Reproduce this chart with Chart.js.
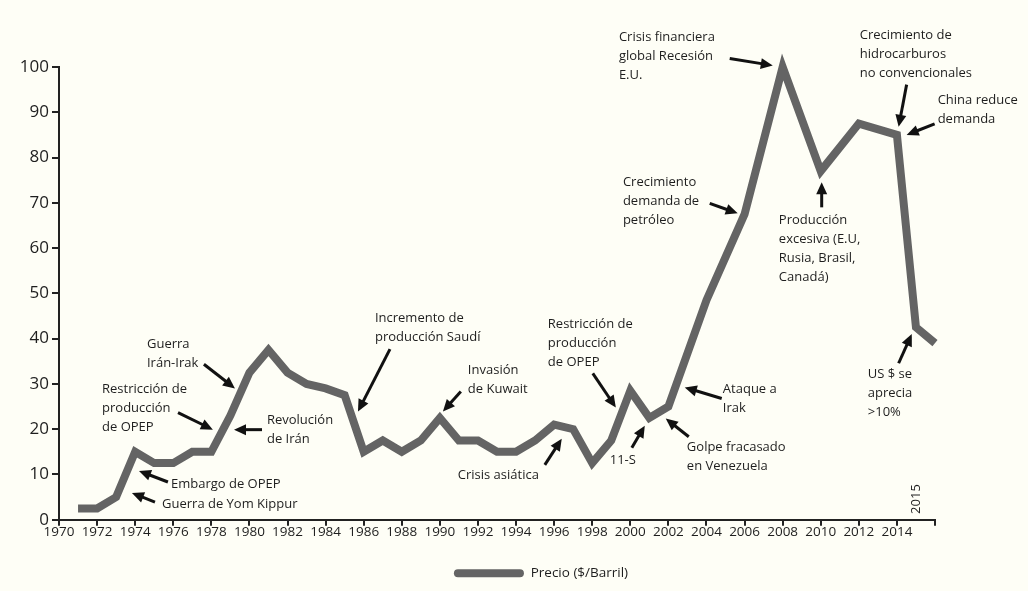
<!DOCTYPE html>
<html>
<head>
<meta charset="utf-8">
<script src="https://cdn.jsdelivr.net/npm/chart.js"></script>
<style>
    html, body { margin: 0; padding: 0; background: #fefef6; }
</style>
</head>
<body>
<canvas id="oilPriceChart" width="1028" height="591"></canvas>
<script>
// years where the line changes direction, and the price read at each one
const years = [1971, 1972, 1973, 1974, 1975, 1976, 1977, 1978, 1979, 1980,
    1981, 1982, 1983, 1984, 1985, 1986, 1987, 1988, 1989, 1990,
    1991, 1992, 1993, 1994, 1995, 1996, 1997, 1998, 1999, 2000,
    2001, 2002, 2004, 2006, 2008, 2010, 2012, 2014, 2015, 2016];
const prices = [2.5, 2.5, 5, 15, 12.5, 12.5, 15, 15, 23, 32.5,
    37.5, 32.5, 30, 29, 27.5, 15, 17.5, 15, 17.5, 22.5,
    17.5, 17.5, 15, 15, 17.5, 21, 20, 12.5, 17.5, 28.5,
    22.5, 25, 48.5, 67.5, 100, 77, 87.5, 85, 42.5, 39];
const xTickLabels = [1970, 1972, 1974, 1976, 1978, 1980, 1982, 1984, 1986, 1988, 1990,
    1992, 1994, 1996, 1998, 2000, 2002, 2004, 2006, 2008, 2010, 2012, 2014];
const seriesLabel = 'Precio ($/Barril)';

// notas: texto (esquina izq., centro de 1a linea) y flecha (desde -> hasta), en unidades de datos
const notes = [
    { lines: ['Guerra de Yom Kippur'], at: [1975.41, 3.44], from: [1975.04, 3.89], to: [1973.83, 5.89] },
    { lines: ['Embargo de OPEP'], at: [1975.88, 7.89], from: [1975.72, 8.33], to: [1974.2, 10.78] },
    { lines: ['Restricción de', 'producción', 'de OPEP'], at: [1972.26, 28.78], from: [1976.25, 23.67], to: [1978.08, 19.89] },
    { lines: ['Guerra', 'Irán-Irak'], at: [1974.62, 38.78], from: [1977.61, 34.33], to: [1979.24, 29.0] },
    { lines: ['Revolución', 'de Irán'], at: [1980.92, 21.89], from: [1980.66, 19.89], to: [1979.19, 19.89] },
    { lines: ['Incremento de', 'producción Saudí'], at: [1986.59, 44.56], from: [1987.38, 37.67], to: [1985.7, 23.89] },
    { lines: ['Invasión', 'de Kuwait'], at: [1991.47, 33.0], from: [1991.1, 28.33], to: [1990.16, 23.89] },
    { lines: ['Crisis asiática'], at: [1990.94, 9.89], from: [1995.51, 12.11], to: [1996.4, 17.89] },
    { lines: ['Restricción de', 'producción', 'de OPEP'], at: [1995.67, 43.22], from: [1998.03, 32.33], to: [1999.24, 24.78] },
    { lines: ['11-S'], at: [1998.92, 13.22], from: [2000.08, 15.89], to: [2000.76, 20.78] },
    { lines: ['Golpe fracasado', 'en Venezuela'], at: [2002.97, 15.89], from: [2003.07, 18.33], to: [2001.86, 22.33] },
    { lines: ['Ataque a', 'Irak'], at: [2004.86, 28.78], from: [2004.8, 26.78], to: [2002.86, 29.22] },
    { lines: ['Crecimiento', 'demanda de', 'petróleo'], at: [1999.61, 74.56], from: [2004.17, 69.89], to: [2005.64, 67.67] },
    { lines: ['Crisis financiera', 'global Recesión', 'E.U.'], at: [1999.4, 106.56], from: [2005.22, 101.89], to: [2007.48, 100.33] },
    { lines: ['Producción', 'excesiva (E.U,', 'Rusia, Brasil,', 'Canadá)'], at: [2007.8, 66.11], from: [2010.05, 69.0], to: [2010.05, 74.56] },
    { lines: ['Crecimiento de', 'hidrocarburos', 'no convencionales'], at: [2012.05, 107.0], from: [2014.51, 96.11], to: [2014.09, 86.78] },
    { lines: ['China reduce', 'demanda'], at: [2016.14, 92.56], from: [2015.98, 87.44], to: [2014.51, 85.0] },
    { lines: ['US $ se', 'aprecia', '>10%'], at: [2012.47, 32.11], from: [2014.09, 34.56], to: [2014.78, 41.0] }
];
const yearNote = { text: '2015', at: [2015.04, 4.56] };

function drawArrow(ctx, x1, y1, x2, y2) {
    const ang = Math.atan2(y2 - y1, x2 - x1);
    const head = 12;
    const half = 5.5;
    const c = Math.cos(ang);
    const s = Math.sin(ang);
    ctx.beginPath();
    ctx.moveTo(x1, y1);
    ctx.lineTo(x2 - c * (head - 2), y2 - s * (head - 2));
    ctx.stroke();
    ctx.beginPath();
    ctx.moveTo(x2, y2);
    ctx.lineTo(x2 - head * c + half * s, y2 - head * s - half * c);
    ctx.lineTo(x2 - head * c - half * s, y2 - head * s + half * c);
    ctx.closePath();
    ctx.fill();
}

const notesPlugin = {
    id: 'notes',
    afterDatasetsDraw(chart) {
        const ctx = chart.ctx;
        const x = chart.scales.x;
        const y = chart.scales.y;
        ctx.save();
        ctx.font = '13px "Open Sans"';
        ctx.textBaseline = 'middle';
        ctx.textAlign = 'left';
        ctx.lineWidth = 3;
        ctx.strokeStyle = '#111';
        notes.forEach(n => {
            ctx.fillStyle = '#1e1e1e';
            n.lines.forEach((t, i) => {
                ctx.fillText(t, x.getPixelForValue(n.at[0]), y.getPixelForValue(n.at[1]) + i * 19);
            });
            ctx.fillStyle = '#111';
            drawArrow(ctx,
                x.getPixelForValue(n.from[0]), y.getPixelForValue(n.from[1]),
                x.getPixelForValue(n.to[0]), y.getPixelForValue(n.to[1]));
        });
        // año 2015 en vertical
        ctx.translate(x.getPixelForValue(yearNote.at[0]), y.getPixelForValue(yearNote.at[1]));
        ctx.rotate(-Math.PI / 2);
        ctx.textAlign = 'center';
        ctx.fillStyle = '#1e1e1e';
        ctx.fillText(yearNote.text, 0, 0);
        ctx.restore();
    }
};

// la leyenda del original no esta centrada en el lienzo, se corre un poco a la derecha
const legendShift = {
    id: 'legendShift',
    afterLayout(chart) {
        chart.legend.left += 27;
        chart.legend.right += 27;
    }
};

const ctx = document.getElementById('oilPriceChart').getContext('2d');

new Chart(ctx, {
    type: 'line',
    data: {
        datasets: [{
            label: seriesLabel,
            data: years.map((yr, i) => ({ x: yr, y: prices[i] })),
            borderColor: '#646464',
            backgroundColor: '#646464',
            borderWidth: 8,
            pointRadius: 0,
            tension: 0,
            clip: false
        }]
    },
    options: {
        responsive: false,
        animation: false,
        layout: {
            padding: { left: 0, top: 67, right: 0, bottom: 1 }
        },
        scales: {
            x: {
                type: 'linear',
                min: 1970,
                max: 2016,
                afterFit: scale => { scale.height = 36.8; },
                grid: { drawOnChartArea: false, tickLength: 6, color: '#222', lineWidth: 2 },
                border: { color: '#222', width: 2 },
                ticks: {
                    stepSize: 2,
                    padding: -2,
                    maxRotation: 0,
                    autoSkip: false,
                    color: '#1e1e1e',
                    font: { family: 'Open Sans', size: 13.5 },
                    callback: value => xTickLabels.includes(value) ? String(value) : ''
                }
            },
            y: {
                min: 0,
                max: 100,
                afterFit: scale => { scale.width = 59; },
                grid: { drawOnChartArea: false, tickLength: 7, color: '#222', lineWidth: 2 },
                border: { color: '#222', width: 2 },
                ticks: {
                    stepSize: 10,
                    padding: 3,
                    color: '#1e1e1e',
                    font: { family: 'Open Sans', size: 17 }
                }
            },
            yRight: {
                position: 'right',
                display: true,
                afterFit: scale => { scale.width = 93; },
                grid: { display: false },
                border: { display: false },
                ticks: { display: false }
            }
        },
        plugins: {
            legend: {
                position: 'bottom',
                labels: {
                    boxWidth: 70,
                    boxHeight: 8,
                    useBorderRadius: true,
                    borderRadius: 4,
                    padding: 10,
                    color: '#1e1e1e',
                    font: { family: 'Open Sans', size: 13.5 },
                    generateLabels: chart => Chart.defaults.plugins.legend.labels.generateLabels(chart)
                        .map(item => ({ ...item, lineWidth: 0 }))
                }
            },
            tooltip: { enabled: false }
        }
    },
    plugins: [notesPlugin, legendShift]
});
</script>
</body>
</html>
